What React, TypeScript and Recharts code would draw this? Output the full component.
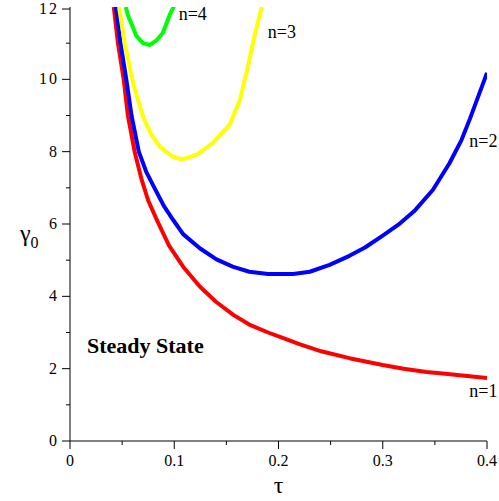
import React from 'react';
import { LineChart, Line, XAxis, YAxis, ReferenceDot } from 'recharts';

// [tau, gamma0]
const n1Points = [
  [0.042, 12], [0.046, 11], [0.0515, 10], [0.0555, 9], [0.062, 8], [0.0685, 7.25],
  [0.075, 6.65], [0.0843, 6.05], [0.095, 5.4], [0.1085, 4.82], [0.1245, 4.27], [0.14, 3.85],
  [0.157, 3.48], [0.172, 3.22], [0.19, 3.0], [0.204, 2.85], [0.22, 2.68], [0.241, 2.48],
  [0.268, 2.29], [0.3, 2.1], [0.32, 2.0], [0.342, 1.91], [0.36, 1.86], [0.374, 1.82], [0.4, 1.74],
];
const n2Points = [
  [0.044, 12], [0.0484, 11], [0.054, 10], [0.059, 9], [0.066, 8], [0.073, 7.45], [0.081, 7.0],
  [0.09, 6.5], [0.099, 6.11], [0.1085, 5.72], [0.1245, 5.33], [0.1405, 5.02], [0.156, 4.82],
  [0.172, 4.68], [0.19, 4.62], [0.214, 4.62], [0.23, 4.68], [0.249, 4.87], [0.268, 5.12],
  [0.283, 5.35], [0.3, 5.68], [0.315, 5.98], [0.33, 6.35], [0.348, 6.94], [0.364, 7.68],
  [0.3755, 8.32], [0.3835, 8.9], [0.4, 10.18],
];
const n3Points = [
  [0.047, 12], [0.0525, 11], [0.0605, 9.89], [0.07, 8.97], [0.0775, 8.5], [0.086, 8.14],
  [0.0986, 7.86], [0.105, 7.8], [0.112, 7.82], [0.1225, 7.93], [0.137, 8.24], [0.153, 8.74],
  [0.163, 9.43], [0.171, 10.4], [0.177, 11.2], [0.184, 12],
];
const n4Points = [
  [0.0535, 12], [0.0555, 11.78], [0.0637, 11.2], [0.07, 11.0], [0.0765, 10.95], [0.083, 11.08],
  [0.089, 11.28], [0.0956, 11.78], [0.101, 12.1],
];

const xTicks = [0, 0.05, 0.1, 0.15, 0.2, 0.25, 0.3, 0.35, 0.4];
const yTicks = [0, 1, 2, 3, 4, 5, 6, 7, 8, 9, 10, 11, 12];

// curve labels, placed in data coordinates
const curveLabels = [
  { x: 0.1043, y: 11.64, text: 'n=4' },
  { x: 0.1897, y: 11.14, text: 'n=3' },
  { x: 0.383, y: 8.12, text: 'n=2' },
  { x: 0.383, y: 1.225, text: 'n=1' },
];

const series = [
  { name: 'n=1', points: n1Points, color: '#ff0000' },
  { name: 'n=2', points: n2Points, color: '#0000ff' },
  { name: 'n=3', points: n3Points, color: '#ffff00' },
  { name: 'n=4', points: n4Points, color: '#00ff00' },
];

const FONT = '"Liberation Serif", "Times New Roman", serif';

const toRows = (pts: number[][]) => pts.map(([x, y]) => ({ x, y }));

const XTick = (props: any) => {
  const { x, y, payload } = props;
  const v = payload.value;
  const major = Math.round(v * 100) % 10 === 0;
  return (
    <g>
      <line x1={x} y1={y} x2={x} y2={y + (major ? 8 : 4)} stroke="#000" strokeWidth={1} />
      {major && (
        <text x={x} y={y + 25} textAnchor="middle" fontFamily={FONT} fontSize={16} fill="#000">
          {v === 0 ? '0' : String(v)}
        </text>
      )}
    </g>
  );
};

const YTick = (props: any) => {
  const { x, y, payload } = props;
  const v = payload.value;
  const major = v % 2 === 0;
  return (
    <g>
      <line x1={x} y1={y} x2={x - (major ? 8 : 4)} y2={y} stroke="#000" strokeWidth={1} />
      {major && (
        <text
          x={x - 11}
          y={y + 5}
          textAnchor="end"
          fontFamily={FONT}
          fontSize={16}
          letterSpacing={2}
          fill="#000"
        >
          {String(v)}
        </text>
      )}
    </g>
  );
};

export default function App() {
  return (
    <div style={{ position: 'absolute', left: 0, top: 0, width: 499, height: 501, background: '#fff' }}>
      <LineChart width={499} height={501} margin={{ top: 7, right: 12, left: 0, bottom: 0 }}>
        <XAxis
          type="number"
          dataKey="x"
          domain={[0, 0.4]}
          ticks={xTicks}
          allowDataOverflow
          height={60}
          tickSize={0}
          tickMargin={0}
          tickLine={false}
          tick={<XTick />}
          axisLine={{ stroke: '#000', strokeWidth: 1 }}
          label={(p: any) => (
            <text
              x={p.viewBox.x + p.viewBox.width / 2}
              y={p.viewBox.y + 52}
              textAnchor="middle"
              fontFamily={FONT}
              fontSize={24}
              fill="#000"
            >
              τ
            </text>
          )}
        />
        <YAxis
          type="number"
          dataKey="y"
          domain={[0, 12]}
          ticks={yTicks}
          allowDataOverflow
          width={70}
          tickSize={0}
          tickMargin={0}
          tickLine={false}
          tick={<YTick />}
          axisLine={{ stroke: '#000', strokeWidth: 1 }}
          label={(p: any) => (
            <text x={20} y={p.viewBox.y + p.viewBox.height / 2 + 17} fontFamily={FONT} fill="#000">
              <tspan fontSize={24}>γ</tspan>
              <tspan fontSize={16} dy={7}>0</tspan>
            </text>
          )}
        />
        {series.map((s) => (
          <Line
            key={s.name}
            data={toRows(s.points)}
            dataKey="y"
            type="linear"
            stroke={s.color}
            strokeWidth={4}
            strokeLinejoin="round"
            dot={false}
            activeDot={false}
            isAnimationActive={false}
          />
        ))}
        {curveLabels.map((l) => (
          <ReferenceDot
            key={l.text}
            x={l.x}
            y={l.y}
            r={0}
            fill="none"
            stroke="none"
            label={(p: any) => (
              <text x={p.viewBox.x} y={p.viewBox.y} fontFamily={FONT} fontSize={18} fill="#000">
                {l.text}
              </text>
            )}
          />
        ))}
        <ReferenceDot
          x={0.0163}
          y={2.43}
          r={0}
          fill="none"
          stroke="none"
          label={(p: any) => (
            <text x={p.viewBox.x} y={p.viewBox.y} fontFamily={FONT} fontSize={22} fontWeight="bold" fill="#000">
              Steady State
            </text>
          )}
        />
      </LineChart>
    </div>
  );
}
